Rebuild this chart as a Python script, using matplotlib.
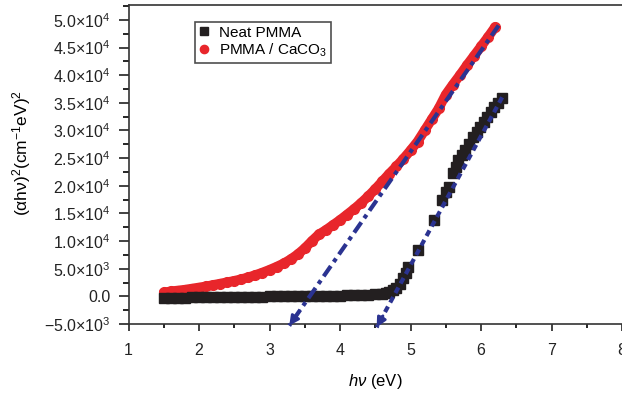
import matplotlib
matplotlib.use('Agg')
import matplotlib.pyplot as plt
import numpy as np

plt.rcParams['font.family'] = ['Liberation Sans', 'DejaVu Sans']
plt.rcParams['mathtext.fontset'] = 'custom'
plt.rcParams['mathtext.rm'] = 'Liberation Sans'
plt.rcParams['mathtext.it'] = 'Liberation Sans:italic'
plt.rcParams['mathtext.default'] = 'regular'

# PMMA / CaCO3 (red)
comp_hv = [1.5, 1.6, 1.7, 1.8, 1.9, 2.0, 2.1, 2.2, 2.3, 2.4, 2.5, 2.6, 2.7, 2.8,
           2.9, 3.0, 3.1, 3.2, 3.3, 3.4, 3.5, 3.6, 3.7, 3.8, 3.9, 4.0, 4.1, 4.2,
           4.3, 4.4, 4.5, 4.6, 4.7, 4.8, 4.9, 5.0, 5.1, 5.2, 5.3, 5.4, 5.5, 5.6,
           5.7, 5.8, 5.9, 6.0, 6.1, 6.2]
comp_y = [700, 900, 1050, 1200, 1400, 1600, 1800, 2050, 2300, 2550, 2800, 3100,
          3450, 3850, 4300, 4800, 5350, 5950, 6700, 7600, 8700, 10000, 11200,
          12000, 12900, 13800, 14800, 15800, 16900, 18100, 19400, 20800, 22200,
          23500, 24900, 26400, 28000, 30000, 32000, 34000, 36500, 38300, 40000,
          41800, 43500, 45200, 46900, 48700]

# Neat PMMA (black)
neat_hv = [1.5, 1.6, 1.7, 1.8, 1.9, 2.0, 2.1, 2.2, 2.3, 2.4, 2.5, 2.6, 2.7, 2.8,
           2.9, 3.0, 3.1, 3.2, 3.3, 3.4, 3.5, 3.6, 3.7, 3.8, 3.9, 4.0, 4.1, 4.2,
           4.3, 4.4, 4.5, 4.6, 4.65, 4.7, 4.75, 4.8, 4.85, 4.9, 4.93, 4.96,
           5.11, 5.33, 5.45, 5.50, 5.54, 5.60, 5.64, 5.68, 5.73, 5.78, 5.83,
           5.88, 5.94, 5.99, 6.04, 6.09, 6.14, 6.18, 6.24, 6.30]
neat_y = [-300, -280, -250, -230, -200, -200, -200, -180, -150, -120, -100, -90,
          -80, -60, -50, -20, 0, 10, 30, 40, 60, 80, 100, 110, 130, 150, 170,
          200, 230, 280, 350, 500, 620, 800, 1100, 1600, 2300, 3300, 4300, 5300,
          8300, 13800, 17400, 18800, 19800, 22300, 23400, 24600, 25500, 26400,
          27600, 28800, 29700, 30600, 31500, 32400, 33300, 34200, 35000, 35900]

# linear fits (end points), arrows at lower ends
fit_comp_hv = [6.25, 3.28]
fit_comp_y = [49000, -5300]
fit_neat_hv = [6.30, 4.52]
fit_neat_y = [36000, -5600]

yticks = [-5000, 0, 5000, 10000, 15000, 20000, 25000, 30000, 35000, 40000, 45000, 50000]
ytick_labels = [r'$-5.0{\times}10^3$', '0.0', r'$5.0{\times}10^3$',
                r'$1.0{\times}10^4$', r'$1.5{\times}10^4$', r'$2.0{\times}10^4$',
                r'$2.5{\times}10^4$', r'$3.0{\times}10^4$', r'$3.5{\times}10^4$',
                r'$4.0{\times}10^4$', r'$4.5{\times}10^4$', r'$5.0{\times}10^4$']

red = '#e8262b'
black = '#231f20'
blue = '#2b3391'

fig = plt.figure(figsize=(6.22, 3.95), dpi=100)
ax = fig.add_axes([128.5 / 622, 1 - 324 / 395, (622 - 128.5) / 622, (324 - 5) / 395])

ax.plot(comp_hv, comp_y, color=red, lw=7, solid_capstyle='round', zorder=2)
ax.plot(comp_hv, comp_y, 'o', color=red, ms=7, mec=red, zorder=2,
        label=r'PMMA / CaCO$_3$')
ax.plot(neat_hv, neat_y, 's', color=black, ms=6.5, mec=black, zorder=3,
        label='Neat PMMA')
ax.plot(neat_hv[:36], neat_y[:36], color=black, lw=5, zorder=3)

ax.plot(fit_comp_hv, fit_comp_y, color=blue, lw=3, dashes=(3, 1.2, 1, 1.2),
        zorder=4, clip_on=False)
ax.plot(fit_neat_hv, fit_neat_y, color=blue, lw=3, dashes=(1.5, 1.1),
        zorder=4, clip_on=False)
for fx, fy in [(fit_comp_hv, fit_comp_y), (fit_neat_hv, fit_neat_y)]:
    ax.annotate('', xy=(fx[1], fy[1]), xytext=(fx[1] + 0.05 * (fx[0] - fx[1]),
                fy[1] + 0.05 * (fy[0] - fy[1])),
                arrowprops=dict(arrowstyle='-|>', color=blue, lw=2,
                                mutation_scale=14, shrinkA=0, shrinkB=0),
                annotation_clip=False, zorder=5)

ax.set_xlim(1, 8)
ax.set_ylim(-5000, 52700)
ax.set_xticks(range(1, 9))
ax.set_xticks(np.arange(1.5, 8, 1.0), minor=True)
ax.set_yticks(yticks)
ax.set_yticklabels(ytick_labels)
ax.set_yticks(np.arange(-2500, 52700, 5000), minor=True)

for s in ['left', 'bottom', 'top']:
    ax.spines[s].set_linewidth(1.2)
    ax.spines[s].set_color('#333333')
ax.spines['right'].set_visible(False)

ax.tick_params(axis='both', which='major', direction='out', labelsize=11.5,
               colors='#222222', width=1.2)
ax.tick_params(axis='y', which='major', length=7, pad=6)
ax.tick_params(axis='y', which='minor', length=4, width=1.2, direction='out')
ax.tick_params(axis='x', which='major', length=5, pad=9)
ax.tick_params(axis='x', which='minor', length=3, width=1.2, direction='out')

ax.set_xlabel(r'$\mathit{h\nu}$ (eV)', fontsize=12, labelpad=10)
ax.set_ylabel(r'$(\alpha h\nu)^2(\mathrm{cm}^{-1}\mathrm{eV})^2$', fontsize=12.5)
ax.yaxis.set_label_coords(-0.193, 0.537)

handles, labels = ax.get_legend_handles_labels()
leg = ax.legend(handles[::-1], labels[::-1], loc='upper left',
                bbox_to_anchor=(195 / 622, 1 - 22 / 395),
                bbox_transform=fig.transFigure, fontsize=11, frameon=True,
                fancybox=False, handlelength=0.7, handletextpad=0.6,
                borderpad=0.25, labelspacing=0.1, borderaxespad=0,
                markerscale=0.85)
leg.get_frame().set_edgecolor('#222222')
leg.get_frame().set_linewidth(1.2)

fig.savefig('out.png', dpi=100)
